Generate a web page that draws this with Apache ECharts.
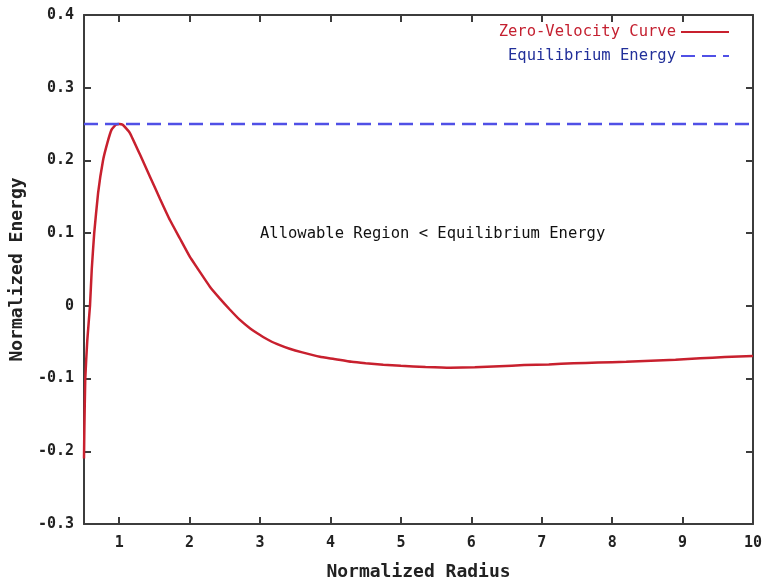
<!DOCTYPE html>
<html>
<head>
<meta charset="utf-8">
<script src="https://cdn.jsdelivr.net/npm/echarts@6/dist/echarts.min.js"></script>
<style>
html,body{margin:0;padding:0;background:#fff;}
#chart{width:766px;height:583px;}
</style>
</head>
<body>
<div id="chart"></div>
<script>
// Data
const radius = [0.5, 0.505, 0.518, 0.547, 0.585, 0.61, 0.645, 0.7, 0.77, 0.83, 0.89, 0.95, 1.0, 1.05, 1.15, 1.3, 1.44, 1.58, 1.72, 1.86, 2.0, 2.15, 2.29, 2.43, 2.57, 2.71, 2.86, 3.0, 3.14, 3.28, 3.42, 3.6, 3.85, 4.05, 4.3, 4.5, 4.75, 5.0, 5.35, 5.7, 6.05, 6.4, 6.75, 7.1, 7.45, 7.8, 8.2, 8.55, 8.9, 9.25, 9.6, 10.0];
const energy = [-0.21, -0.17, -0.1, -0.047, 0.0, 0.05, 0.1, 0.155, 0.2, 0.2235, 0.242, 0.249, 0.25, 0.249, 0.238, 0.207, 0.177, 0.147, 0.118, 0.093, 0.068, 0.046, 0.026, 0.01, -0.005, -0.019, -0.031, -0.04, -0.048, -0.054, -0.059, -0.064, -0.07, -0.073, -0.077, -0.079, -0.081, -0.0825, -0.084, -0.085, -0.0845, -0.083, -0.0815, -0.0805, -0.079, -0.078, -0.077, -0.0755, -0.074, -0.072, -0.0705, -0.069];
const equilibriumEnergy = 0.25;
const equilibriumRadius = [0.5, 10];
const seriesNames = ['Zero-Velocity Curve', 'Equilibrium Energy'];
const xTitle = 'Normalized Radius';
const yTitle = 'Normalized Energy';
const annotation = 'Allowable Region < Equilibrium Energy';

const curveData = radius.map((r, i) => [r, energy[i]]);
const eqData = equilibriumRadius.map(r => [r, equilibriumEnergy]);

const FONT = '"DejaVu Sans Mono", monospace';
const axisLineStyle = {color: '#3c3c3c', width: 2};

const chart = echarts.init(document.getElementById('chart'));
chart.setOption({
  animation: false,
  backgroundColor: '#fff',
  grid: {left: 84, right: 13, top: 15, bottom: 59, containLabel: false, outerBoundsMode: 'none'},
  legend: {
    orient: 'vertical',
    right: 31,
    top: 19,
    align: 'right',
    itemWidth: 48,
    itemHeight: 14,
    itemGap: 8,
    itemStyle: {opacity: 0},
    textStyle: {fontFamily: FONT, fontSize: 15.5},
    data: [
      {name: seriesNames[0], textStyle: {color: '#c42030'}},
      {name: seriesNames[1], textStyle: {color: '#22309a'}}
    ]
  },
  xAxis: [
    {
      type: 'value', min: 0.5, max: 10, minInterval: 1, maxInterval: 1,
      position: 'bottom',
      name: xTitle, nameLocation: 'middle', nameGap: 39,
      nameTextStyle: {fontFamily: FONT, fontSize: 18, fontWeight: 'bold', color: '#222'},
      axisLine: {show: true, onZero: false, lineStyle: axisLineStyle},
      axisTick: {show: true, inside: true, length: 7, lineStyle: axisLineStyle},
      axisLabel: {fontFamily: FONT, fontSize: 15, fontWeight: 'bold', color: '#222', margin: 12,
        formatter: v => (Math.abs(v - Math.round(v)) < 1e-9 ? String(Math.round(v)) : '')},
      splitLine: {show: false}
    },
    {
      type: 'value', min: 0.5, max: 10, minInterval: 1, maxInterval: 1,
      position: 'top',
      axisLine: {show: true, onZero: false, lineStyle: axisLineStyle},
      axisTick: {show: true, inside: true, length: 7, lineStyle: axisLineStyle},
      axisLabel: {show: false},
      splitLine: {show: false}
    }
  ],
  yAxis: [
    {
      type: 'value', min: -0.3, max: 0.4, interval: 0.1,
      position: 'left',
      name: yTitle, nameLocation: 'middle', nameGap: 58, nameRotate: 90,
      nameTextStyle: {fontFamily: FONT, fontSize: 18, fontWeight: 'bold', color: '#222'},
      axisLine: {show: true, onZero: false, lineStyle: axisLineStyle},
      axisTick: {show: true, inside: true, length: 7, lineStyle: axisLineStyle},
      axisLabel: {fontFamily: FONT, fontSize: 15, fontWeight: 'bold', color: '#222', margin: 10,
        formatter: v => (Math.abs(v) < 1e-9 ? '0' : v.toFixed(1))},
      splitLine: {show: false}
    },
    {
      type: 'value', min: -0.3, max: 0.4, interval: 0.1,
      position: 'right',
      axisLine: {show: true, onZero: false, lineStyle: axisLineStyle},
      axisTick: {show: true, inside: true, length: 7, lineStyle: axisLineStyle},
      axisLabel: {show: false},
      splitLine: {show: false}
    }
  ],
  graphic: [{
    type: 'text', left: 260, top: 226,
    style: {text: annotation, font: '15.5px "DejaVu Sans Mono", monospace', fill: '#111'}
  }],
  series: [
    {
      name: seriesNames[0], type: 'line', xAxisIndex: 0, yAxisIndex: 0,
      data: curveData, symbol: 'none', smooth: 0.12,
      lineStyle: {color: '#c8202e', width: 2.5},
      itemStyle: {color: '#c8202e'}
    },
    {
      name: seriesNames[1], type: 'line', xAxisIndex: 0, yAxisIndex: 0,
      data: eqData, symbol: 'none',
      lineStyle: {color: '#5050e6', width: 2.5, type: [14, 7]},
      itemStyle: {color: '#5050e6'}
    }
  ]
});
</script>
</body>
</html>
